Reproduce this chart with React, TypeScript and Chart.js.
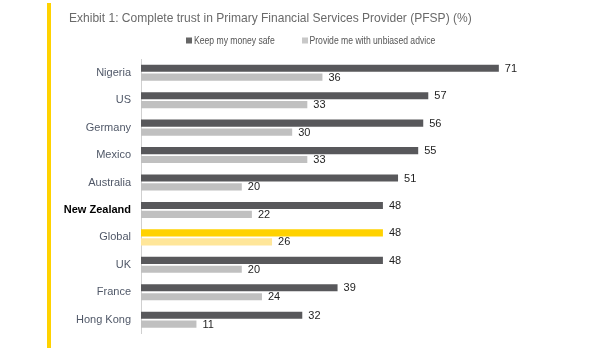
import React, { useEffect, useRef } from "react";
import { Chart, registerables } from "chart.js";

Chart.register(...registerables);

const titleText = "Exhibit 1: Complete trust in Primary Financial Services Provider (PFSP) (%)";
const categories = ["Nigeria", "US", "Germany", "Mexico", "Australia", "New Zealand", "Global", "UK", "France", "Hong Kong"];
const seriesNames = ["Keep my money safe", "Provide me with unbiased advice"];
const keepSafe = [71, 57, 56, 55, 51, 48, 48, 48, 39, 32];
const unbiased = [36, 33, 30, 33, 20, 22, 26, 20, 24, 11];
const highlightIndex = categories.indexOf("Global");
const boldIndex = categories.indexOf("New Zealand");

const DARK = "#58585b";
const LIGHT = "#c0c0c0";
const YELLOW = "#ffd200";
const LIGHT_YELLOW = "#ffe699";
const REG = "'Liberation Sans', Arial, sans-serif";

function condensedText(ctx: any, text: string, x: number, y: number, sx: number) {
  ctx.save();
  ctx.translate(x, y);
  ctx.scale(sx, 1);
  ctx.fillText(text, 0, 0);
  ctx.restore();
}

const decorPlugin = {
  id: "decor",
  beforeDraw(chart: any) {
    const ctx = chart.ctx;
    ctx.save();
    ctx.fillStyle = YELLOW;
    ctx.fillRect(47, 3, 4, 345);
    // title
    ctx.fillStyle = "#6a6a6a";
    ctx.font = `13px ${REG}`;
    ctx.textBaseline = "alphabetic";
    ctx.textAlign = "left";
    condensedText(ctx, titleText, 69, 22, 0.926);
    // legend
    ctx.font = `10px ${REG}`;
    ctx.textBaseline = "middle";
    ctx.fillStyle = "#666";
    ctx.fillRect(186, 37.5, 6, 6);
    ctx.fillStyle = "#555";
    condensedText(ctx, seriesNames[0], 194, 41, 0.86);
    ctx.fillStyle = "#c8c8c8";
    ctx.fillRect(302, 37.5, 6, 6);
    ctx.fillStyle = "#555";
    condensedText(ctx, seriesNames[1], 309.5, 41, 0.86);
    ctx.restore();
  },
  afterDatasetsDraw(chart: any) {
    const ctx = chart.ctx;
    ctx.save();
    ctx.font = `11px ${REG}`;
    ctx.fillStyle = "#1e1e1e";
    ctx.textAlign = "left";
    ctx.textBaseline = "middle";
    chart.data.datasets.forEach((ds: any, di: number) => {
      const meta = chart.getDatasetMeta(di);
      meta.data.forEach((bar: any, i: number) => {
        ctx.fillText(String(ds.data[i]), bar.x + 6, bar.y + 0.5);
      });
    });
    ctx.restore();
  },
};

export default function App() {
  const ref = useRef<HTMLCanvasElement | null>(null);
  useEffect(() => {
    if (!ref.current) return;
    const chart = new Chart(ref.current, {
      type: "bar",
      data: {
        labels: categories,
        datasets: [
          {
            label: seriesNames[0],
            data: keepSafe,
            backgroundColor: categories.map((_, i) => (i === highlightIndex ? YELLOW : DARK)),
            categoryPercentage: 0.65,
            barPercentage: 0.8,
          },
          {
            label: seriesNames[1],
            data: unbiased,
            backgroundColor: categories.map((_, i) => (i === highlightIndex ? LIGHT_YELLOW : LIGHT)),
            categoryPercentage: 0.65,
            barPercentage: 0.8,
          },
        ],
      },
      options: {
        indexAxis: "y",
        responsive: false,
        animation: false,
        layout: { padding: { top: 59, bottom: 8, left: 0, right: 5.4 } },
        plugins: { legend: { display: false }, title: { display: false }, tooltip: { enabled: false } },
        scales: {
          x: { display: false, min: 0, max: 90 },
          y: {
            afterFit(scale: any) {
              scale.width = 141;
            },
            grid: { display: false, drawTicks: false },
            border: { display: true, color: "#d0d0d0", width: 1 },
            ticks: {
              padding: 10,
              color: (c: any) => (c.index === boldIndex ? "#000" : "#505868"),
              font: (c: any) =>
                c.index === boldIndex
                  ? { family: REG, size: 11, weight: "bold" }
                  : { family: REG, size: 11, weight: "normal" },
            },
          },
        },
      },
      plugins: [decorPlugin],
    } as any);
    return () => chart.destroy();
  }, []);
  return (
    <div style={{ position: "absolute", left: 0, top: 0, width: 600, height: 350, background: "#fff" }}>
      <canvas ref={ref} width={600} height={350} style={{ display: "block" }} />
    </div>
  );
}
